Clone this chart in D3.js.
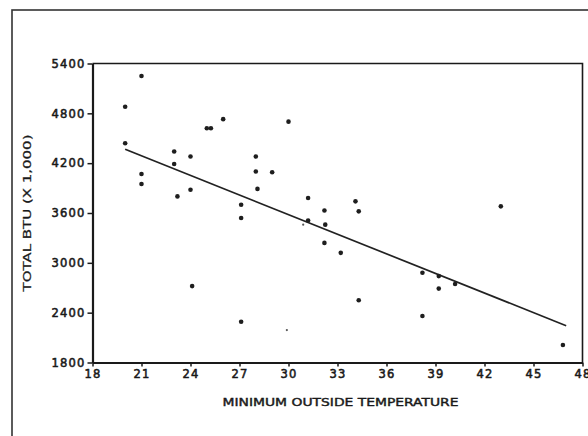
<!DOCTYPE html>
<html>
<head>
<meta charset="utf-8">
<script src="https://cdn.jsdelivr.net/npm/d3@7"></script>
<style>
  html, body { margin: 0; padding: 0; background: #fff; overflow: hidden; }
  svg { display: block; }
</style>
</head>
<body>
<svg id="chart" width="588" height="436"></svg>
<script>
// ---- data ----
const xTicks = [18, 21, 24, 27, 30, 33, 36, 39, 42, 45, 48];
const yTicks = [1800, 2400, 3000, 3600, 4200, 4800, 5400];

// minimum outside temperature
const temps = [21, 20, 20, 25, 25.25, 26, 30, 23, 24, 23, 28, 28, 29, 21, 21, 24, 23.2, 28.1, 27.1,
               31.2, 32.2, 27.1, 31.2, 32.25, 32.2, 33.2, 24.1, 27.1, 34.1, 34.3, 43, 38.2,
               39.2, 40.2, 39.2, 34.3, 38.2, 46.8];
// total BTU (x 1,000)
const btu   = [5250, 4880, 4440, 4620, 4620, 4730, 4700, 4340, 4280, 4190, 4280, 4100, 4090, 4070, 3950, 3880, 3800, 3890, 3700,
               3780, 3630, 3540, 3510, 3460, 3240, 3120, 2720, 2290, 3740, 3620, 3680, 2880,
               2840, 2745, 2690, 2550, 2360, 2010];

// faint (small) points
const faintTemps = [30.9, 29.9];
const faintBtu   = [3460, 2190];

// fitted line end points
const lineTemps = [20, 47];
const lineBtu   = [4367, 2243];

const xLabel = "MINIMUM OUTSIDE TEMPERATURE";
const yLabel = "TOTAL BTU (X 1,000)";

// ---- drawing ----
const svg = d3.select("#chart");
const ink = "#1a1a1a";

const pL = 92.5, pR = 582.5, pT = 63.5, pB = 362.5;
const x = d3.scaleLinear().domain([18, 48]).range([pL, pR]);
const y = d3.scaleLinear().domain([1800, 5400]).range([pB, pT]);

// outer frame (cut by the window on the right and bottom)
svg.append("rect")
  .attr("x", 12).attr("y", 10).attr("width", 640).attr("height", 480)
  .attr("fill", "none").attr("stroke", "#333").attr("stroke-width", 1.6);

// plot box top and right
svg.append("path")
  .attr("d", `M${pL},${pT}H${pR}V${pB}`)
  .attr("fill", "none").attr("stroke", ink).attr("stroke-width", 1.6);

const tickFont = g => g.selectAll("text")
  .attr("font-family", "DejaVu Sans, sans-serif")
  .attr("font-size", 11.5)
  .attr("letter-spacing", 1.2)
  .attr("fill", ink)
  .attr("stroke", ink).attr("stroke-width", 0.55);

// x axis
svg.append("g")
  .attr("transform", `translate(0,${pB})`)
  .call(d3.axisBottom(x).tickValues(xTicks).tickFormat(d3.format("d")).tickSize(4).tickSizeOuter(0).tickPadding(3))
  .call(g => g.select(".domain").attr("stroke", ink).attr("stroke-width", 2))
  .call(g => g.selectAll(".tick line").attr("stroke", ink).attr("stroke-width", 1.5))
  .call(tickFont);

// y axis
svg.append("g")
  .attr("transform", `translate(${pL},0)`)
  .call(d3.axisLeft(y).tickValues(yTicks).tickFormat(d3.format("d")).tickSize(5).tickSizeOuter(0).tickPadding(2))
  .call(g => g.select(".domain").attr("stroke", ink).attr("stroke-width", 2.2))
  .call(g => g.selectAll(".tick line").attr("stroke", ink).attr("stroke-width", 1.5))
  .call(tickFont);

// axis titles
svg.append("text")
  .attr("x", (pL + pR) / 2 + 3).attr("y", 406)
  .attr("text-anchor", "middle")
  .attr("font-family", "DejaVu Sans, sans-serif").attr("font-size", 10.5)
  .attr("textLength", 236).attr("lengthAdjust", "spacingAndGlyphs")
  .attr("fill", ink).attr("stroke", ink).attr("stroke-width", 0.4)
  .text(xLabel);

svg.append("text")
  .attr("transform", `translate(31,${(pT + pB) / 2}) rotate(-90)`)
  .attr("text-anchor", "middle")
  .attr("font-family", "DejaVu Sans, sans-serif").attr("font-size", 10.5)
  .attr("textLength", 157).attr("lengthAdjust", "spacingAndGlyphs")
  .attr("fill", ink).attr("stroke", ink).attr("stroke-width", 0.25)
  .text(yLabel);

// fitted line
const lineData = lineTemps.map((t, i) => [t, lineBtu[i]]);
svg.append("path")
  .datum(lineData)
  .attr("d", d3.line().x(d => x(d[0])).y(d => y(d[1])))
  .attr("fill", "none").attr("stroke", "#222").attr("stroke-width", 1.7);

// points
const pts = temps.map((t, i) => ({ t, b: btu[i] }));
svg.append("g").selectAll("circle").data(pts).join("circle")
  .attr("cx", d => x(d.t)).attr("cy", d => y(d.b)).attr("r", 2.3)
  .attr("fill", "#1e1e1e");

const faint = faintTemps.map((t, i) => ({ t, b: faintBtu[i] }));
svg.append("g").selectAll("circle").data(faint).join("circle")
  .attr("cx", d => x(d.t)).attr("cy", d => y(d.b)).attr("r", 1.1)
  .attr("fill", "#555");
</script>
</body>
</html>
